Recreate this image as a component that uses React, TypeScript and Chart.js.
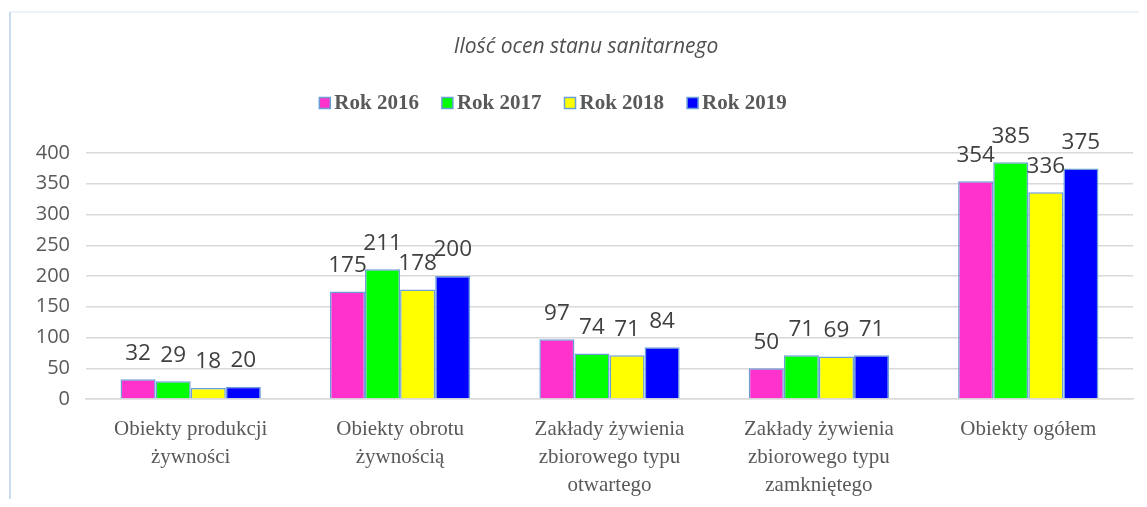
import React, { useEffect, useRef } from "react";
import { Chart, registerables } from "chart.js";

Chart.register(...registerables);

const titleText = "Ilość ocen stanu sanitarnego";
const categories: string[][] = [
  ["Obiekty produkcji", "żywności"],
  ["Obiekty obrotu", "żywnością"],
  ["Zakłady żywienia", "zbiorowego typu", "otwartego"],
  ["Zakłady żywienia", "zbiorowego typu", "zamkniętego"],
  ["Obiekty ogółem"],
];
const seriesNames = ["Rok 2016", "Rok 2017", "Rok 2018", "Rok 2019"];
const rok2016 = [32, 175, 97, 50, 354];
const rok2017 = [29, 211, 74, 71, 385];
const rok2018 = [18, 178, 71, 69, 336];
const rok2019 = [20, 200, 84, 71, 375];
const seriesColors = ["#FF33CC", "#00FF00", "#FFFF00", "#0000FF"];
const yTicks = { min: 0, max: 400, step: 50 };

const BORDER = "#6A9FD8";

const framePlugin = {
  id: "frame",
  beforeDraw(chart: any) {
    const ctx = chart.ctx;
    ctx.save();
    ctx.fillStyle = "#ffffff";
    ctx.fillRect(0, 0, chart.width, chart.height);
    ctx.strokeStyle = "#EEF3FA";
    ctx.lineWidth = 2;
    ctx.beginPath();
    ctx.moveTo(2, 4);
    ctx.lineTo(chart.width, 4);
    ctx.stroke();
    ctx.strokeStyle = "#C9DDF1";
    ctx.beginPath();
    ctx.moveTo(2, 4);
    ctx.lineTo(2, chart.height);
    ctx.stroke();
    ctx.restore();
  },
};

const headerPlugin = {
  id: "header",
  afterDraw(chart: any) {
    const ctx = chart.ctx;
    ctx.save();
    // title
    ctx.font = "italic 21px 'Open Sans'";
    ctx.fillStyle = "#505050";
    ctx.textAlign = "center";
    ctx.textBaseline = "middle";
    ctx.fillText(titleText, 578, 39);
    // legend
    ctx.font = "bold 21px 'Liberation Serif'";
    const box = 11;
    const gapText = 4;
    const gapItem = 23;
    const widths = chart.data.datasets.map((d: any) => ctx.measureText(d.label).width);
    const total =
      widths.reduce((a: number, w: number) => a + box + gapText + w, 0) +
      gapItem * (widths.length - 1);
    let x = 545 - total / 2;
    const cy = 95;
    chart.data.datasets.forEach((d: any, i: number) => {
      ctx.fillStyle = d.backgroundColor;
      ctx.fillRect(x, cy - box / 2, box, box);
      ctx.strokeStyle = BORDER;
      ctx.lineWidth = 1.5;
      ctx.strokeRect(x, cy - box / 2, box, box);
      ctx.fillStyle = "#595959";
      ctx.textAlign = "left";
      ctx.textBaseline = "middle";
      ctx.fillText(d.label, x + box + gapText, cy + 1);
      x += box + gapText + widths[i] + gapItem;
    });
    ctx.restore();
  },
};

const labelPlugin = {
  id: "valueLabels",
  afterDatasetsDraw(chart: any) {
    const ctx = chart.ctx;
    ctx.save();
    ctx.font = "22.5px 'Open Sans'";
    ctx.fillStyle = "#404040";
    ctx.textAlign = "center";
    ctx.textBaseline = "middle";
    chart.data.datasets.forEach((d: any, di: number) => {
      const meta = chart.getDatasetMeta(di);
      meta.data.forEach((el: any, i: number) => {
        ctx.fillText(String(d.data[i]), el.x, el.y - 26);
      });
    });
    ctx.restore();
  },
};

export default function App() {
  const ref = useRef<HTMLCanvasElement>(null);
  useEffect(() => {
    if (!ref.current) return;
    const allSeries = [rok2016, rok2017, rok2018, rok2019];
    const chart = new Chart(ref.current, {
      type: "bar",
      data: {
        labels: categories,
        datasets: allSeries.map((s, i) => ({
          label: seriesNames[i],
          data: s,
          backgroundColor: seriesColors[i],
          borderColor: BORDER,
          borderWidth: 1.5,
          categoryPercentage: 0.67,
          barPercentage: 1.0,
        })),
      },
      options: {
        animation: false,
        responsive: true,
        maintainAspectRatio: false,
        layout: { padding: { top: 145, left: 8, right: 6, bottom: 0 } },
        plugins: {
          legend: { display: false },
          title: { display: false },
          tooltip: { enabled: false },
        },
        scales: {
          x: {
            grid: { display: false, drawTicks: false },
            border: { display: true, color: "#D9D9D9", width: 1.5 },
            ticks: {
              padding: 16,
              color: "#595959",
              font: { family: "'Liberation Serif'", size: 21, lineHeight: 1.35 },
              maxRotation: 0,
              autoSkip: false,
            },
            afterFit(scale: any) {
              scale.height = 100;
            },
          },
          y: {
            min: yTicks.min,
            max: yTicks.max,
            ticks: {
              stepSize: yTicks.step,
              padding: 16,
              color: "#595959",
              font: { family: "'Open Sans'", size: 20 },
            },
            grid: { color: "#D9D9D9", lineWidth: 1.5, drawTicks: false },
            border: { display: false },
            afterFit(scale: any) {
              scale.width = 70;
            },
          },
        },
      },
      plugins: [framePlugin, headerPlugin, labelPlugin],
    });
    return () => chart.destroy();
  }, []);
  return (
    <div style={{ width: "100%", height: "491px", position: "relative" }}>
      <canvas ref={ref} />
    </div>
  );
}
